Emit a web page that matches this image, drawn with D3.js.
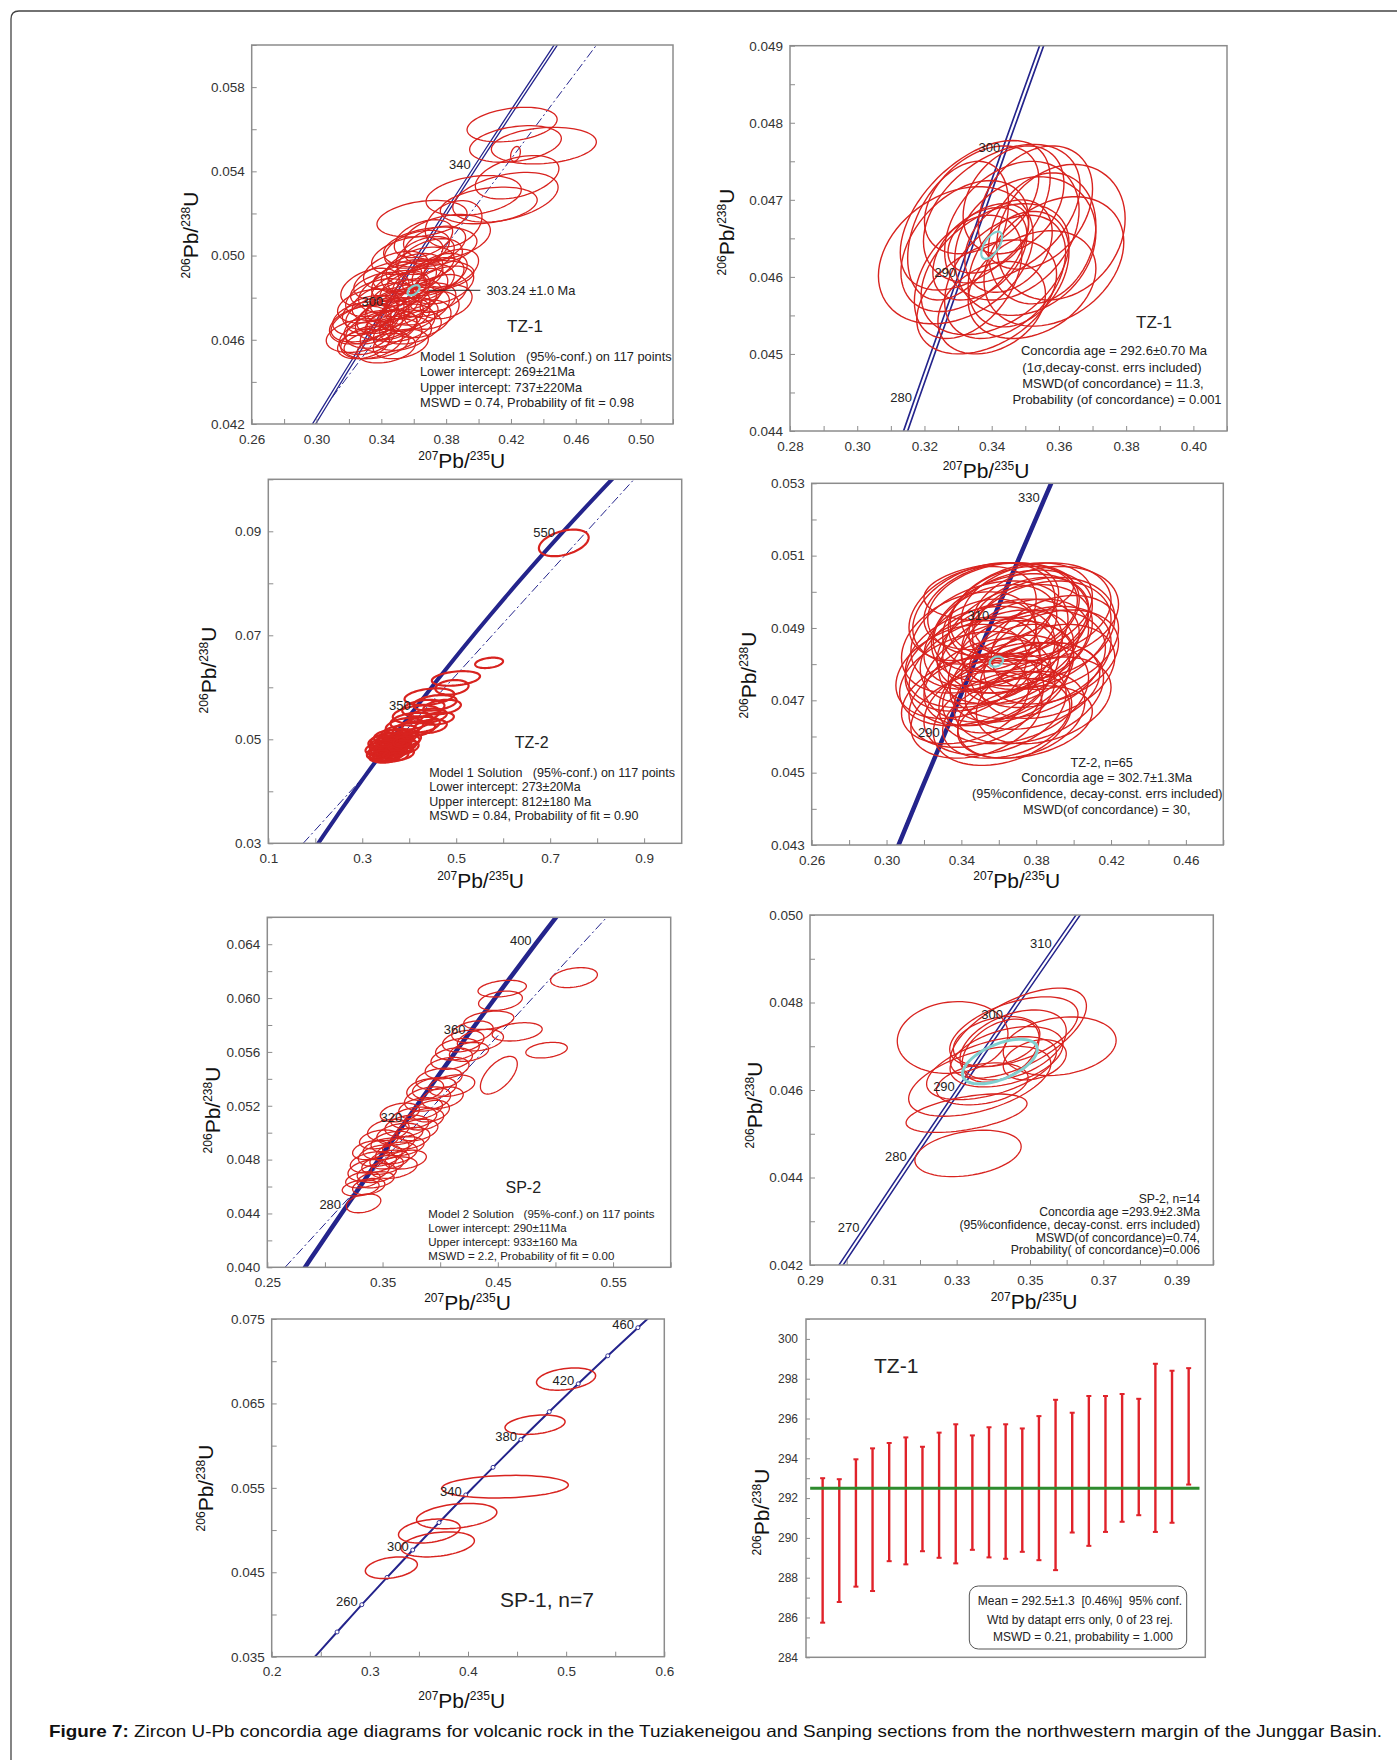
<!DOCTYPE html>
<html>
<head>
<meta charset="utf-8">
<script src="https://cdn.jsdelivr.net/npm/d3@7"></script>
<style>
body { margin: 0; background: #fff; }
svg text { font-family: "Liberation Sans", Arial, sans-serif; white-space: pre; }
</style>
</head>
<body>
<svg id="fig" width="1397" height="1760"></svg>
<script>
// concordia reference points: age (Ma), 207Pb/235U, 206Pb/238U
var concAges = [180, 200, 220, 240, 250, 260, 270, 280, 290, 300, 310, 320, 330, 340, 350, 360, 380, 400, 420, 440, 460, 480, 500, 550, 600, 650];
var conc207 = [0.1940, 0.2177, 0.2419, 0.2666, 0.2792, 0.2918, 0.3046, 0.3175, 0.3306, 0.3437, 0.3570, 0.3705, 0.3840, 0.3977, 0.4116, 0.4255, 0.4539, 0.4828, 0.5123, 0.5424, 0.5731, 0.6044, 0.6363, 0.7189, 0.8057, 0.8968];
var conc206 = [0.02832, 0.03151, 0.03472, 0.03793, 0.03954, 0.04116, 0.04277, 0.04439, 0.04601, 0.04764, 0.04926, 0.05089, 0.05252, 0.05416, 0.05580, 0.05743, 0.06072, 0.06402, 0.06732, 0.07064, 0.07397, 0.07730, 0.08065, 0.08906, 0.09754, 0.10609];

// error ellipses: [207Pb/235U, 206Pb/238U, half width, half height, rho]
var tz1Ellipses = [
  [0.4207,0.05622,0.0278,0.00082,0.3],[0.4403,0.05522,0.0324,0.00087,0.2],[0.4228,0.0553,0.0283,0.00087,0.3],
  [0.4238,0.05372,0.0258,0.00103,0.4],[0.4228,0.05483,0.0030,0.00035,0.3],[0.3970,0.05285,0.0294,0.00095,0.3],
  [0.4166,0.05277,0.0325,0.00118,0.4],[0.4063,0.05238,0.0299,0.00087,0.3],[0.3846,0.05151,0.0175,0.0011,0.3],
  [0.3651,0.05175,0.0278,0.00087,0.3],[0.3805,0.05088,0.0268,0.00107,0.3],[0.3702,0.0504,0.0288,0.00095,0.3],
  [0.3661,0.04898,0.031,0.00079,0.3],
  [0.326,0.0462,0.020,0.0008,0.3],[0.330,0.0468,0.021,0.0009,0.4],[0.334,0.0459,0.019,0.0008,0.3],
  [0.336,0.0472,0.018,0.0009,0.4],[0.340,0.0465,0.022,0.0009,0.4],[0.342,0.0478,0.020,0.0009,0.4],
  [0.345,0.0470,0.021,0.0010,0.4],[0.346,0.0462,0.019,0.0008,0.3],[0.348,0.0483,0.022,0.0010,0.4],
  [0.350,0.0475,0.020,0.0009,0.4],[0.352,0.0468,0.021,0.0009,0.3],[0.354,0.0488,0.020,0.0010,0.4],
  [0.355,0.0480,0.022,0.0009,0.4],[0.357,0.0472,0.018,0.0008,0.3],[0.359,0.0492,0.019,0.0009,0.4],
  [0.360,0.0484,0.021,0.0010,0.4],[0.362,0.0476,0.020,0.0009,0.3],[0.364,0.0495,0.021,0.0009,0.4],
  [0.366,0.0487,0.019,0.0009,0.4],[0.368,0.0479,0.018,0.0008,0.3],[0.370,0.0498,0.020,0.0010,0.4],
  [0.372,0.0490,0.019,0.0009,0.4],[0.338,0.0480,0.020,0.0009,0.4],[0.332,0.0476,0.019,0.0008,0.3],
  [0.328,0.0470,0.018,0.0008,0.3],[0.344,0.0488,0.021,0.0009,0.4],[0.337,0.0458,0.020,0.0007,0.3],
  [0.343,0.0456,0.018,0.0007,0.3],[0.331,0.0461,0.017,0.0008,0.3],[0.349,0.0493,0.020,0.0009,0.4],
  [0.356,0.0500,0.022,0.0009,0.4],[0.362,0.0503,0.020,0.0009,0.4],[0.353,0.0463,0.018,0.0008,0.3],
  [0.358,0.0466,0.019,0.0008,0.3],[0.365,0.0470,0.018,0.0009,0.3],[0.371,0.0474,0.017,0.0009,0.3],
  [0.375,0.0482,0.018,0.0009,0.4],[0.376,0.0492,0.017,0.0009,0.4],[0.347,0.0476,0.016,0.0008,0.4],
  [0.341,0.0471,0.016,0.0008,0.4],[0.335,0.0466,0.018,0.0008,0.4],[0.329,0.0458,0.016,0.0007,0.3],
  [0.351,0.0484,0.017,0.0008,0.4],[0.361,0.0490,0.017,0.0008,0.4],[0.367,0.0500,0.018,0.0009,0.4],
  [0.339,0.0484,0.018,0.0008,0.4],[0.333,0.0473,0.017,0.0008,0.3],[0.358,0.0478,0.016,0.0008,0.4],
  [0.346,0.0467,0.016,0.0007,0.3],[0.354,0.0472,0.016,0.0008,0.3],[0.378,0.0486,0.019,0.0009,0.4],
  [0.383,0.0494,0.017,0.0009,0.4],[0.380,0.0478,0.016,0.0008,0.3],[0.327,0.0467,0.019,0.0009,0.3],
  [0.333,0.0485,0.018,0.0009,0.4],[0.352,0.0458,0.017,0.0007,0.3],[0.366,0.0508,0.018,0.0009,0.4],
  [0.373,0.0505,0.019,0.0009,0.4]
];
var tz1Mean = [[0.3599,0.04835,0.0037,0.00024,0.5]];

var tz1cEllipses = [
  [0.3293,0.04628,0.0230,0.00089,0.3],[0.3606,0.04658,0.0191,0.00088,0.2],[0.3585,0.04620,0.0208,0.00084,0.3],
  [0.3385,0.04574,0.0208,0.00074,0.4],[0.3351,0.04680,0.0223,0.00097,0.5],[0.3430,0.04682,0.0233,0.00090,0.4],
  [0.3320,0.04640,0.0190,0.00085,0.4],[0.3390,0.04650,0.0120,0.00045,0.4],[0.3460,0.04660,0.0200,0.00090,0.3],
  [0.3500,0.04640,0.0210,0.00090,0.2],[0.3440,0.04600,0.0180,0.00080,0.4],[0.3530,0.04690,0.0170,0.00080,0.3],
  [0.3370,0.04700,0.0170,0.00070,0.4],[0.3410,0.04610,0.0220,0.00085,0.4],[0.3480,0.04610,0.0150,0.00075,0.3],
  [0.3330,0.04600,0.0160,0.00080,0.4],[0.3550,0.04650,0.0160,0.00085,0.2],[0.3400,0.04560,0.0160,0.00060,0.3],
  [0.3465,0.04700,0.0150,0.00070,0.3],[0.3365,0.04630,0.0140,0.00060,0.4],[0.3520,0.04590,0.0190,0.00070,0.3],
  [0.3300,0.04660,0.0150,0.00090,0.4],[0.3450,0.04640,0.0130,0.00060,0.3]
];
var tz1cMean = [[0.3400,0.04641,0.0031,0.000177,0.6]];

var tz2Ellipses = [
  [0.729,0.08777,0.053,0.00256,0.4],[0.570,0.0647,0.0297,0.0010,0.3],[0.4994,0.0617,0.0513,0.0014,0.3],
  [0.491,0.0600,0.0353,0.0014,0.2],
  [0.443,0.0582,0.053,0.0016,0.3],[0.455,0.0570,0.046,0.0015,0.3],[0.470,0.0562,0.040,0.0014,0.3],
  [0.430,0.0560,0.045,0.0016,0.3],[0.415,0.0548,0.050,0.0017,0.3],[0.440,0.0545,0.040,0.0014,0.3],
  [0.460,0.0540,0.035,0.0012,0.3],[0.405,0.0535,0.045,0.0016,0.3],[0.425,0.0528,0.040,0.0015,0.3],
  [0.390,0.0525,0.040,0.0016,0.3],[0.410,0.0520,0.045,0.0015,0.3],[0.445,0.0525,0.035,0.0013,0.3],
  [0.380,0.0512,0.040,0.0015,0.3],
  [0.340,0.0475,0.030,0.0013,0.3],[0.350,0.0480,0.035,0.0014,0.3],[0.360,0.0485,0.033,0.0013,0.3],
  [0.345,0.0490,0.030,0.0013,0.3],[0.370,0.0492,0.035,0.0014,0.3],[0.355,0.0470,0.032,0.0012,0.3],
  [0.365,0.0475,0.030,0.0012,0.3],[0.375,0.0480,0.032,0.0013,0.3],[0.385,0.0488,0.030,0.0014,0.3],
  [0.335,0.0482,0.028,0.0012,0.3],[0.348,0.0498,0.030,0.0013,0.3],[0.362,0.0500,0.032,0.0013,0.3],
  [0.378,0.0500,0.030,0.0013,0.3],[0.392,0.0495,0.030,0.0013,0.3],[0.340,0.0468,0.025,0.0011,0.3],
  [0.352,0.0465,0.028,0.0010,0.3],[0.368,0.0468,0.030,0.0011,0.3],[0.382,0.0472,0.028,0.0012,0.3],
  [0.355,0.0506,0.030,0.0012,0.3],[0.372,0.0508,0.030,0.0012,0.3],[0.388,0.0505,0.028,0.0012,0.3],
  [0.400,0.0500,0.025,0.0012,0.3],[0.338,0.0495,0.025,0.0012,0.3],[0.358,0.0492,0.025,0.0011,0.3],
  [0.372,0.0486,0.025,0.0011,0.3],[0.346,0.0484,0.022,0.0010,0.3],[0.362,0.0478,0.022,0.0010,0.3],
  [0.378,0.0494,0.022,0.0010,0.3],[0.395,0.0485,0.025,0.0012,0.3],[0.332,0.0472,0.022,0.0010,0.3],
  [0.345,0.0478,0.026,0.0011,0.3],[0.355,0.0488,0.026,0.0011,0.3],[0.365,0.0495,0.026,0.0011,0.3],
  [0.350,0.0472,0.022,0.0009,0.3],[0.360,0.0482,0.024,0.0010,0.3],[0.370,0.0478,0.026,0.0011,0.3],
  [0.342,0.0488,0.024,0.0010,0.3],[0.380,0.0488,0.024,0.0010,0.3],[0.352,0.0496,0.022,0.0010,0.3],
  [0.366,0.0470,0.022,0.0009,0.3],[0.338,0.0470,0.020,0.0009,0.3],[0.386,0.0496,0.020,0.0010,0.3]
];

var tz2cEllipses = [
  [0.345,0.0476,0.038,0.0013,0.3],[0.350,0.0482,0.040,0.0014,0.3],[0.355,0.0488,0.042,0.0015,0.3],
  [0.360,0.0478,0.040,0.0014,0.3],[0.365,0.0485,0.038,0.0013,0.3],[0.370,0.0492,0.040,0.0014,0.3],
  [0.375,0.0480,0.042,0.0015,0.3],[0.380,0.0488,0.040,0.0015,0.3],[0.385,0.0494,0.039,0.0013,0.2],
  [0.348,0.0470,0.036,0.0013,0.3],[0.358,0.0468,0.038,0.0013,0.3],[0.368,0.0472,0.040,0.0014,0.3],
  [0.378,0.0474,0.036,0.0012,0.3],[0.352,0.0494,0.038,0.0014,0.3],[0.362,0.0495,0.040,0.0013,0.2],
  [0.372,0.0495,0.038,0.0013,0.3],[0.344,0.0486,0.036,0.0014,0.3],[0.340,0.0478,0.035,0.0013,0.3],
  [0.354,0.0475,0.034,0.0012,0.3],[0.364,0.0482,0.036,0.0013,0.3],[0.374,0.0486,0.034,0.0012,0.3],
  [0.382,0.0482,0.038,0.0014,0.3],[0.358,0.0490,0.033,0.0012,0.3],[0.368,0.0494,0.035,0.0013,0.3],
  [0.348,0.0466,0.035,0.0012,0.3],[0.362,0.0465,0.037,0.0013,0.3],[0.372,0.0466,0.034,0.0012,0.3],
  [0.384,0.0470,0.036,0.0012,0.3],[0.356,0.0496,0.036,0.0012,0.3],[0.380,0.0495,0.040,0.0013,0.2],
  [0.346,0.0494,0.034,0.0013,0.3],[0.366,0.0476,0.032,0.0012,0.3],[0.376,0.0492,0.032,0.0012,0.3],
  [0.350,0.0486,0.030,0.0012,0.3],[0.360,0.0472,0.030,0.0011,0.3],[0.370,0.0480,0.030,0.0011,0.3],
  [0.386,0.0478,0.036,0.0013,0.3],[0.342,0.0470,0.034,0.0012,0.3],[0.390,0.0486,0.034,0.0013,0.3],
  [0.364,0.0465,0.034,0.0011,0.3],
  [0.352,0.0478,0.040,0.0015,0.3],[0.376,0.0472,0.040,0.0014,0.3],[0.366,0.0490,0.042,0.0015,0.3],
  [0.384,0.0490,0.038,0.0014,0.2],[0.356,0.0483,0.038,0.0014,0.3],[0.346,0.0480,0.036,0.0013,0.3],
  [0.388,0.0482,0.036,0.0013,0.3],[0.370,0.0487,0.040,0.0015,0.3],[0.360,0.0500,0.040,0.0008,0.2],
  [0.374,0.0464,0.036,0.0010,0.3]
];
var tz2cMean = [[0.3587,0.04807,0.0036,0.00014,0.3]];

var sp2Ellipses = [
  [0.5161,0.06152,0.0203,0.00074,0.3],[0.4538,0.0607,0.0210,0.00062,0.3],[0.4523,0.0598,0.0190,0.00072,0.3],
  [0.4422,0.05835,0.0217,0.00068,0.3],[0.4668,0.05749,0.0217,0.00068,0.3],[0.4923,0.05613,0.0180,0.00058,0.3],
  [0.4349,0.05687,0.020,0.0008,0.3],[0.4509,0.05427,0.016,0.0014,0.6],
  [0.3335,0.04475,0.015,0.0007,0.3],[0.3310,0.04590,0.016,0.0006,0.3],[0.3330,0.04650,0.015,0.0006,0.3],
  [0.3380,0.04720,0.018,0.0008,0.3],[0.3420,0.04780,0.020,0.0008,0.3],[0.3450,0.04700,0.017,0.0007,0.3],
  [0.3480,0.04830,0.019,0.0008,0.3],[0.3500,0.04760,0.018,0.0007,0.3],[0.3530,0.04880,0.020,0.0008,0.3],
  [0.3560,0.04800,0.017,0.0007,0.3],[0.3590,0.04930,0.019,0.0008,0.3],[0.3620,0.04850,0.018,0.0008,0.3],
  [0.3650,0.04990,0.020,0.0008,0.3],[0.3680,0.04900,0.018,0.0007,0.3],[0.3710,0.05050,0.019,0.0008,0.3],
  [0.3740,0.04960,0.017,0.0008,0.3],[0.3770,0.05110,0.020,0.0008,0.3],[0.3800,0.05020,0.018,0.0008,0.3],
  [0.3830,0.05180,0.019,0.0008,0.3],[0.3860,0.05100,0.017,0.0008,0.3],[0.3890,0.05250,0.020,0.0009,0.3],
  [0.3920,0.05160,0.016,0.0008,0.3],[0.3950,0.05330,0.019,0.0008,0.3],[0.3990,0.05400,0.020,0.0008,0.3],
  [0.4020,0.05260,0.018,0.0008,0.3],[0.4060,0.05480,0.019,0.0008,0.3],[0.4100,0.05550,0.018,0.0008,0.3],
  [0.4150,0.05620,0.019,0.0008,0.3],[0.4200,0.05680,0.018,0.0008,0.3],[0.4250,0.05600,0.017,0.0007,0.3],
  [0.4280,0.05750,0.018,0.0008,0.3],[0.3600,0.04740,0.020,0.0008,0.3],[0.3700,0.04800,0.018,0.0007,0.3],
  [0.3400,0.04870,0.016,0.0007,0.3],[0.3470,0.04950,0.017,0.0007,0.3],[0.3550,0.05020,0.018,0.0008,0.3],
  [0.3650,0.05150,0.017,0.0007,0.3],[0.3870,0.05320,0.016,0.0008,0.3],[0.4100,0.05350,0.020,0.0008,0.3],
  [0.3380,0.04600,0.014,0.0006,0.3],[0.3440,0.04650,0.016,0.0006,0.3]
];

var sp2cEllipses = [
  [0.3331,0.04455,0.0145,0.00053,0.3],[0.3327,0.04547,0.0165,0.00044,0.5],[0.3289,0.0472,0.0151,0.00082,0.1],
  [0.3468,0.0473,0.0186,0.00103,0.6],[0.3581,0.0470,0.0154,0.00067,0.2],[0.3456,0.04733,0.0175,0.0008,0.5],
  [0.3454,0.04703,0.0145,0.0008,0.4],[0.3436,0.04676,0.0154,0.00069,0.4],[0.3363,0.0462,0.0194,0.0008,0.5],
  [0.3370,0.04614,0.0125,0.00048,0.3],[0.3513,0.04669,0.0086,0.00046,0.3],[0.3395,0.04650,0.0177,0.00072,0.5],
  [0.3409,0.04711,0.0118,0.00057,0.3],[0.3420,0.04690,0.0105,0.00072,0.4]
];
var sp2cMean = [[0.3418,0.04665,0.0102,0.00051,0.55]];

var sp1Ellipses = [
  [0.4999,0.06789,0.0301,0.00132,0.3],[0.4683,0.06248,0.0306,0.00115,0.3],[0.4377,0.05514,0.0645,0.00134,0.15],
  [0.3885,0.05166,0.0409,0.0015,0.3],[0.3606,0.04988,0.0314,0.00142,0.3],[0.3691,0.0483,0.0374,0.00148,0.3],
  [0.3219,0.04554,0.0265,0.00128,0.3]
];

// discordia end points [207/235, 206/238]
var tz1Discordia = [[0.3033,0.04261],[0.4728,0.0600]];
var tz2Discordia = [[0.1743,0.030],[0.8786,0.100]];
var sp2Discordia = [[0.2654,0.040],[0.5445,0.066]];

// age labels on the concordia
var tz1Ages = [300, 340];
var tz1cAges = [280, 290, 300];
var tz2Ages = [350, 550];
var tz2cAges = [290, 310, 330];
var sp2Ages = [280, 320, 360, 400];
var sp2cAges = [270, 280, 290, 300, 310];
var sp1Ages = [260, 300, 340, 380, 420, 460];
var sp1Markers = [240, 260, 280, 300, 320, 340, 360, 380, 400, 420, 440, 460];

// weighted mean (TZ-1): error bar top / bottom, 206Pb/238U age (Ma)
var wmTop = [293.0, 292.95, 293.95, 294.5, 294.77, 295.05, 294.58, 295.29, 295.71, 295.15, 295.56, 295.71, 295.5, 296.12, 296.94, 296.29, 297.13, 297.13, 297.23, 296.99, 298.75, 298.4, 298.53];
var wmBottom = [285.74, 286.78, 287.55, 287.33, 288.83, 288.67, 289.33, 289.0, 288.72, 289.4, 289.02, 288.95, 289.3, 288.88, 288.38, 290.27, 289.6, 290.3, 290.81, 291.14, 290.3, 290.76, 292.68];
var wmMean = 292.5;

var NAVY = "#24248c", RED = "#d8231f", CYAN = "#80cfcf", TXT = "#222";
var FONT = '"Liberation Sans", Arial, sans-serif';

var svg = d3.select("#fig");
svg.append("rect").attr("width", 1397).attr("height", 1760).attr("fill", "#fff");
// outer frame of the figure
svg.append("path").attr("d", "M11,1760 V19 Q11,11 19,11 H1397")
  .attr("fill", "none").attr("stroke", "#444").attr("stroke-width", 1.3);

var concPts = concAges.map(function(a, i) { return [conc207[i], conc206[i]]; });
function concAt(age) { var i = concAges.indexOf(age); return [conc207[i], conc206[i]]; }

function tickRange(lo, hi, step) {
  var n = Math.floor((hi - lo) / step + 1e-6);
  return d3.range(n + 1).map(function(i) { return +(lo + i * step).toFixed(6); });
}
function isLabel(v, lab) {
  var k = (v - lab[0]) / lab[1];
  return Math.abs(k - Math.round(k)) < 1e-6;
}
function ellipsePts(e) {
  var k = Math.sqrt(1 - e[4] * e[4]);
  return d3.range(72).map(function(i) {
    var t = i / 72 * 2 * Math.PI;
    return [e[0] + e[2] * Math.cos(t), e[1] + e[3] * (e[4] * Math.cos(t) + k * Math.sin(t))];
  });
}

function addText(g, d) {
  g.append("text").attr("x", d.x).attr("y", d.y)
    .attr("text-anchor", d.anchor || "start")
    .attr("font-size", d.size || 12.5)
    .attr("fill", TXT)
    .text(d.t);
}

function ratioTitle(g, cx, cy, rotate, top, bottom) {
  var t = g.append("text").attr("text-anchor", "middle").attr("fill", "#111")
    .attr("transform", "translate(" + cx + "," + cy + ")" + (rotate ? " rotate(-90)" : ""));
  t.append("tspan").attr("font-size", 12).attr("dy", -8).text(top);
  t.append("tspan").attr("font-size", 21).attr("dy", 8).text("Pb/");
  t.append("tspan").attr("font-size", 12).attr("dy", -8).text(bottom);
  t.append("tspan").attr("font-size", 21).attr("dy", 8).text("U");
}

function styleAxis(a, size) {
  a.attr("font-family", FONT).attr("font-size", size);
  a.select(".domain").remove();
  a.selectAll(".tick line").attr("stroke", "#8c8c8c");
  a.selectAll(".tick text").attr("fill", "#333");
}

function drawPanel(p) {
  var b = p.box;
  var x = d3.scaleLinear().domain(p.xDomain).range([b[0], b[0] + b[2]]);
  var y = d3.scaleLinear().domain(p.yDomain).range([b[1] + b[3], b[1]]);
  var g = svg.append("g");
  var cid = "clip-" + p.id;
  g.append("clipPath").attr("id", cid).append("rect")
    .attr("x", b[0]).attr("y", b[1]).attr("width", b[2]).attr("height", b[3]);
  var plot = g.append("g").attr("clip-path", "url(#" + cid + ")");
  var path = d3.line().x(function(d) { return x(d[0]); }).y(function(d) { return y(d[1]); });
  var smooth = d3.line().x(function(d) { return x(d[0]); }).y(function(d) { return y(d[1]); }).curve(d3.curveCatmullRom);
  var closed = d3.line().x(function(d) { return x(d[0]); }).y(function(d) { return y(d[1]); }).curve(d3.curveLinearClosed);

  // discordia
  if (p.discordia) {
    plot.append("path").attr("d", path(p.discordia)).attr("fill", "none")
      .attr("stroke", NAVY).attr("stroke-width", 1).attr("stroke-dasharray", "9,3,2,3");
  }
  // concordia
  var cd = smooth(concPts);
  if (p.concStyle === "double") {
    plot.append("path").attr("d", cd).attr("fill", "none").attr("stroke", NAVY).attr("stroke-width", p.concW[0]);
    plot.append("path").attr("d", cd).attr("fill", "none").attr("stroke", "#fff").attr("stroke-width", p.concW[1]);
  } else {
    plot.append("path").attr("d", cd).attr("fill", "none").attr("stroke", NAVY).attr("stroke-width", p.concW[0]);
  }
  if (p.markers) {
    plot.selectAll("circle.mk").data(p.markers).enter().append("circle")
      .attr("cx", function(a) { return x(concAt(a)[0]); })
      .attr("cy", function(a) { return y(concAt(a)[1]); })
      .attr("r", 2).attr("fill", "#fff").attr("stroke", NAVY).attr("stroke-width", 0.9);
  }
  // ellipses
  plot.selectAll("path.ell").data(p.ellipses).enter().append("path")
    .attr("d", function(e) { return closed(ellipsePts(e)); })
    .attr("fill", "none").attr("stroke", RED).attr("stroke-width", p.ellW || 1.2);
  if (p.mean) {
    plot.selectAll("path.mean").data(p.mean).enter().append("path")
      .attr("d", function(e) { return closed(ellipsePts(e)); })
      .attr("fill", "none").attr("stroke", CYAN).attr("stroke-width", p.meanW || 2.2);
  }
  // age labels
  g.selectAll("text.age").data(p.ages).enter().append("text")
    .attr("x", function(a) { return x(concAt(a)[0]) - 4; })
    .attr("y", function(a) { return y(concAt(a)[1]) + 1; })
    .attr("text-anchor", "end").attr("font-size", 13).attr("fill", TXT)
    .text(function(a) { return a; });
  if (p.leader) {
    g.append("path").attr("d", path(p.leader.pts)).attr("stroke", "#222").attr("stroke-width", 1);
    addText(g, p.leader.label);
  }

  // frame and axes
  g.append("rect").attr("x", b[0]).attr("y", b[1]).attr("width", b[2]).attr("height", b[3])
    .attr("fill", "none").attr("stroke", "#8c8c8c").attr("stroke-width", 1.5);
  if (p.xTicks) {
    var xf = d3.format(p.xFmt);
    var xa = g.append("g").attr("transform", "translate(0," + (b[1] + b[3]) + ")")
      .call(d3.axisBottom(x).tickValues(tickRange(p.xTicks[0], p.xDomain[1], p.xTicks[1]))
        .tickSize(-5).tickPadding(10)
        .tickFormat(function(v) { return isLabel(v, p.xLab) ? xf(v) : ""; }));
    styleAxis(xa, p.tickSize || 13.5);
  }
  var yf = d3.format(p.yFmt);
  var ya = g.append("g").attr("transform", "translate(" + b[0] + ",0)")
    .call(d3.axisLeft(y).tickValues(tickRange(p.yTicks[0], p.yDomain[1], p.yTicks[1]))
      .tickSize(-5).tickPadding(p.yPad || 7)
      .tickFormat(function(v) { return isLabel(v, p.yLab) ? yf(v) : ""; }));
  styleAxis(ya, p.tickSize || 13.5);

  if (p.xTitle) ratioTitle(g, p.xTitle[0], p.xTitle[1], false, "207", "235");
  ratioTitle(g, p.yTitle[0], p.yTitle[1], true, "206", "238");
  p.texts.forEach(function(d) { addText(g, d); });
  return { g: g, x: x, y: y };
}

// panel 1: TZ-1 discordia
drawPanel({
  id: "tz1", box: [251.7, 45, 421.3, 379], xDomain: [0.26, 0.52], yDomain: [0.042, 0.060],
  xTicks: [0.26, 0.02], xLab: [0.26, 0.04], xFmt: ".2f",
  yTicks: [0.042, 0.002], yLab: [0.042, 0.004], yFmt: ".3f",
  concStyle: "double", concW: [4, 1.4], discordia: tz1Discordia,
  ellipses: tz1Ellipses, ellW: 1.3, mean: tz1Mean, ages: tz1Ages,
  leader: { pts: [[0.3691, 0.04835], [0.4011, 0.04835]], label: { t: "303.24 \u00b11.0 Ma", x: 486.5, y: 295, size: 12.8 } },
  xTitle: [461.7, 467.7], yTitle: [197.5, 235],
  texts: [
    { t: "TZ-1", x: 525, y: 332, size: 17, anchor: "middle" },
    { t: "Model 1 Solution   (95%-conf.) on 117 points", x: 420, y: 361, size: 12.8 },
    { t: "Lower intercept: 269\u00b121Ma", x: 420, y: 376, size: 12.8 },
    { t: "Upper intercept: 737\u00b1220Ma", x: 420, y: 391.5, size: 12.8 },
    { t: "MSWD = 0.74, Probability of fit = 0.98", x: 420, y: 406.5, size: 12.8 }
  ]
});

// panel 2: TZ-1 concordia age
drawPanel({
  id: "tz1c", box: [790, 45.7, 437, 385.3], xDomain: [0.28, 0.41], yDomain: [0.044, 0.049],
  xTicks: [0.28, 0.01], xLab: [0.28, 0.02], xFmt: ".2f",
  yTicks: [0.044, 0.0005], yLab: [0.044, 0.001], yFmt: ".3f",
  concStyle: "double", concW: [5.5, 2.2],
  ellipses: tz1cEllipses, ellW: 1.4, mean: tz1cMean, ages: tz1cAges,
  xTitle: [986, 478], yTitle: [734, 232],
  texts: [
    { t: "TZ-1", x: 1154, y: 328, size: 17, anchor: "middle" },
    { t: "Concordia age = 292.6\u00b10.70 Ma", x: 1114, y: 355, size: 13, anchor: "middle" },
    { t: "(1\u03c3,decay-const. errs included)", x: 1112, y: 371.5, size: 13, anchor: "middle" },
    { t: "MSWD(of concordance) = 11.3,", x: 1113, y: 387.5, size: 13, anchor: "middle" },
    { t: "Probability (of concordance) = 0.001", x: 1117, y: 404, size: 13, anchor: "middle" }
  ]
});

// panel 3: TZ-2 discordia
drawPanel({
  id: "tz2", box: [268.3, 479.3, 413.4, 364], xDomain: [0.1, 0.98], yDomain: [0.03, 0.10],
  xTicks: [0.1, 0.1], xLab: [0.1, 0.2], xFmt: ".1f",
  yTicks: [0.03, 0.01], yLab: [0.03, 0.02], yFmt: ".2f",
  concStyle: "thick", concW: [4], discordia: tz2Discordia,
  ellipses: tz2Ellipses, ellW: 2.2, ages: tz2Ages,
  xTitle: [480.5, 888], yTitle: [216, 670],
  texts: [
    { t: "TZ-2", x: 531.7, y: 748.3, size: 16, anchor: "middle" },
    { t: "Model 1 Solution   (95%-conf.) on 117 points", x: 429.3, y: 777, size: 12.5 },
    { t: "Lower intercept: 273\u00b120Ma", x: 429.3, y: 791, size: 12.5 },
    { t: "Upper intercept: 812\u00b1180 Ma", x: 429.3, y: 806, size: 12.5 },
    { t: "MSWD = 0.84, Probability of fit = 0.90", x: 429.3, y: 820, size: 12.5 }
  ]
});

// panel 4: TZ-2 concordia age
drawPanel({
  id: "tz2c", box: [811.7, 483.3, 411.6, 361.7], xDomain: [0.26, 0.48], yDomain: [0.043, 0.053],
  xTicks: [0.26, 0.02], xLab: [0.26, 0.04], xFmt: ".2f",
  yTicks: [0.043, 0.001], yLab: [0.043, 0.002], yFmt: ".3f",
  concStyle: "thick", concW: [4.5],
  ellipses: tz2cEllipses, ellW: 1.4, mean: tz2cMean, ages: tz2cAges,
  xTitle: [1016.7, 888], yTitle: [756, 675],
  texts: [
    { t: "TZ-2, n=65", x: 1101.7, y: 766.7, size: 12.7, anchor: "middle" },
    { t: "Concordia age = 302.7\u00b11.3Ma", x: 1106.7, y: 781.7, size: 12.7, anchor: "middle" },
    { t: "(95%confidence, decay-const. errs included)", x: 1097.3, y: 798.3, size: 12.7, anchor: "middle" },
    { t: "MSWD(of concordance) = 30,", x: 1106.7, y: 814.3, size: 12.7, anchor: "middle" }
  ]
});

// panel 5: SP-2 discordia
drawPanel({
  id: "sp2", box: [267.3, 917.3, 403.4, 350], xDomain: [0.25, 0.60], yDomain: [0.040, 0.066],
  xTicks: [0.25, 0.05], xLab: [0.25, 0.1], xFmt: ".2f",
  yTicks: [0.040, 0.002], yLab: [0.040, 0.004], yFmt: ".3f",
  concStyle: "thick", concW: [4.5], discordia: sp2Discordia,
  ellipses: sp2Ellipses, ellW: 1.3, ages: sp2Ages,
  xTitle: [467.5, 1310], yTitle: [219.5, 1110],
  texts: [
    { t: "SP-2", x: 523.3, y: 1193.3, size: 16, anchor: "middle" },
    { t: "Model 2 Solution   (95%-conf.) on 117 points", x: 428.3, y: 1218.3, size: 11.5 },
    { t: "Lower intercept: 290\u00b111Ma", x: 428.3, y: 1232, size: 11.5 },
    { t: "Upper intercept: 933\u00b1160 Ma", x: 428.3, y: 1246, size: 11.5 },
    { t: "MSWD = 2.2, Probability of fit = 0.00", x: 428.3, y: 1259.5, size: 11.5 }
  ]
});

// panel 6: SP-2 concordia age
drawPanel({
  id: "sp2c", box: [810, 915, 403.3, 350], xDomain: [0.29, 0.40], yDomain: [0.042, 0.050],
  xTicks: [0.29, 0.01], xLab: [0.29, 0.02], xFmt: ".2f",
  yTicks: [0.042, 0.001], yLab: [0.042, 0.002], yFmt: ".3f",
  concStyle: "double", concW: [5, 2],
  ellipses: sp2cEllipses, ellW: 1.3, mean: sp2cMean, meanW: 3, ages: sp2cAges,
  xTitle: [1034, 1309.3], yTitle: [761.5, 1105],
  texts: [
    { t: "SP-2, n=14", x: 1200, y: 1203.3, size: 12.2, anchor: "end" },
    { t: "Concordia age =293.9\u00b12.3Ma", x: 1200, y: 1216, size: 12.2, anchor: "end" },
    { t: "(95%confidence, decay-const. errs included)", x: 1200, y: 1228.5, size: 12.2, anchor: "end" },
    { t: "MSWD(of concordance)=0.74,", x: 1200, y: 1241.5, size: 12.2, anchor: "end" },
    { t: "Probability( of concordance)=0.006", x: 1200, y: 1254, size: 12.2, anchor: "end" }
  ]
});

// panel 7: SP-1
drawPanel({
  id: "sp1", box: [271.7, 1319, 392.6, 337.7], xDomain: [0.2, 0.6], yDomain: [0.035, 0.075],
  xTicks: [0.2, 0.05], xLab: [0.2, 0.1], xFmt: ".1f",
  yTicks: [0.035, 0.005], yLab: [0.035, 0.01], yFmt: ".3f",
  concStyle: "thin", concW: [2], markers: sp1Markers,
  ellipses: sp1Ellipses, ellW: 1.5, ages: sp1Ages,
  xTitle: [461.7, 1708], yTitle: [212.5, 1488],
  texts: [
    { t: "SP-1, n=7", x: 500, y: 1607.3, size: 21 }
  ]
});

// panel 8: TZ-1 weighted mean
(function() {
  var b = [806, 1319, 399.3, 338.3];
  var x = d3.scaleLinear().domain([0, 24]).range([b[0], b[0] + b[2]]);
  var y = d3.scaleLinear().domain([284, 301]).range([b[1] + b[3], b[1]]);
  var g = svg.append("g");
  var bars = g.selectAll("g.bar").data(wmTop).enter().append("g");
  bars.append("line")
    .attr("x1", function(d, i) { return x(i + 1); }).attr("x2", function(d, i) { return x(i + 1); })
    .attr("y1", function(d) { return y(d); }).attr("y2", function(d, i) { return y(wmBottom[i]); })
    .attr("stroke", "#e0222a").attr("stroke-width", 2.4);
  bars.append("line")
    .attr("x1", function(d, i) { return x(i + 1) - 2.5; }).attr("x2", function(d, i) { return x(i + 1) + 2.5; })
    .attr("y1", function(d) { return y(d); }).attr("y2", function(d) { return y(d); })
    .attr("stroke", "#e0222a").attr("stroke-width", 2);
  bars.append("line")
    .attr("x1", function(d, i) { return x(i + 1) - 2.5; }).attr("x2", function(d, i) { return x(i + 1) + 2.5; })
    .attr("y1", function(d, i) { return y(wmBottom[i]); }).attr("y2", function(d, i) { return y(wmBottom[i]); })
    .attr("stroke", "#e0222a").attr("stroke-width", 2);
  g.append("line").attr("x1", x(0.25)).attr("x2", x(23.65))
    .attr("y1", y(wmMean)).attr("y2", y(wmMean))
    .attr("stroke", "#2e8b2e").attr("stroke-width", 3);
  g.append("rect").attr("x", b[0]).attr("y", b[1]).attr("width", b[2]).attr("height", b[3])
    .attr("fill", "none").attr("stroke", "#8c8c8c").attr("stroke-width", 1.5);
  var ya = g.append("g").attr("transform", "translate(" + b[0] + ",0)")
    .call(d3.axisLeft(y).tickValues(d3.range(284, 302, 1)).tickSize(-4).tickPadding(8)
      .tickFormat(function(v) { return v % 2 === 0 ? v : ""; }));
  styleAxis(ya, 12);
  ratioTitle(g, 769, 1512, true, "206", "238");
  addText(g, { t: "TZ-1", x: 874, y: 1372.7, size: 21 });
  g.append("rect").attr("x", 969.3).attr("y", 1586).attr("width", 217.4).attr("height", 63)
    .attr("rx", 9).attr("fill", "#fff").attr("stroke", "#555").attr("stroke-width", 1);
  addText(g, { t: "Mean = 292.5\u00b11.3  [0.46%]  95% conf.", x: 1080, y: 1605, size: 12, anchor: "middle" });
  addText(g, { t: "Wtd by datapt errs only, 0 of 23 rej.", x: 1080, y: 1624, size: 12, anchor: "middle" });
  addText(g, { t: "MSWD = 0.21, probability = 1.000", x: 1083, y: 1641, size: 12, anchor: "middle" });
})();

// caption
var cap = svg.append("text").attr("x", 49).attr("y", 1736.5).attr("font-size", 16.5).attr("fill", "#111")
  .attr("textLength", 1333).attr("lengthAdjust", "spacingAndGlyphs");
cap.append("tspan").attr("font-weight", "bold").text("Figure 7:");
cap.append("tspan").text(" Zircon U-Pb concordia age diagrams for volcanic rock in the Tuziakeneigou and Sanping sections from the northwestern margin of the Junggar Basin.");
</script>
</body>
</html>
